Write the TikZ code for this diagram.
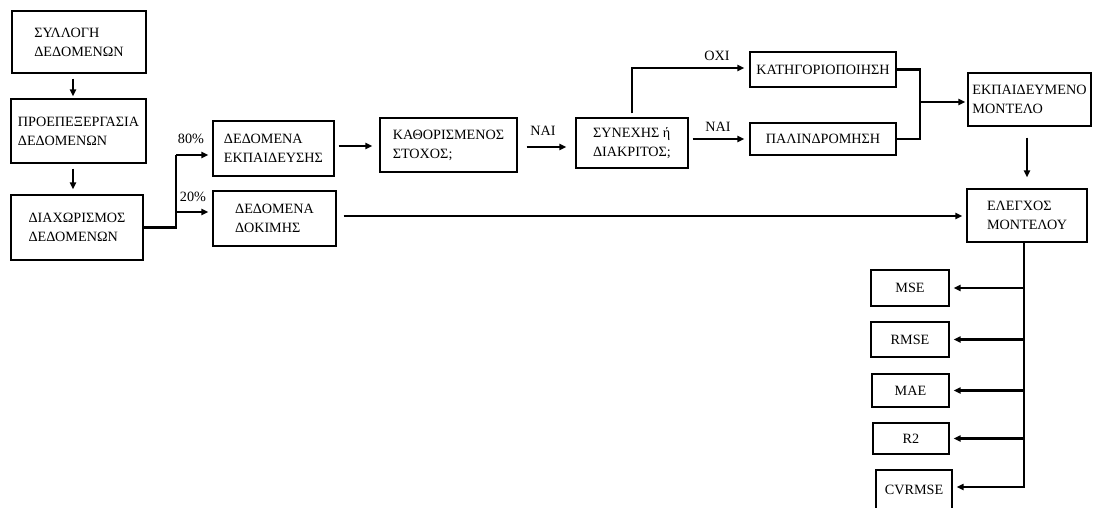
\documentclass[tikz,border=0pt]{standalone}
\usepackage{fontspec}
\setmainfont{Liberation Serif}
\usetikzlibrary{arrows.meta}
\begin{document}
\begin{tikzpicture}[x=1pt,y=-1pt,
  box/.style={draw, line width=1.1pt, align=left, inner sep=0pt,
              font=\fontsize{14.2}{19}\selectfont},
  lbl/.style={inner sep=0pt, font=\fontsize{14.2}{16}\selectfont},
  conn/.style={line width=2.6pt},
  arr/.style={conn, -{Triangle[length=7pt,width=6pt]}},
  thinarr/.style={line width=2pt, -{Triangle[length=7pt,width=6pt]}},
]
\useasboundingbox (0,0) rectangle (1100,507);
\clip (0,0) rectangle (1100,507);

% data preparation chain
\node[box, minimum width=134pt, minimum height=62pt] (s1) at (79,42) {ΣΥΛΛΟΓΗ\\ΔΕΔΟΜΕΝΩΝ};
\node[box, minimum width=135pt, minimum height=64pt] (s2) at (78.5,131) {ΠΡΟΕΠΕΞΕΡΓΑΣΙΑ\\ΔΕΔΟΜΕΝΩΝ};
\node[box, minimum width=132pt, minimum height=65pt] (s3) at (77,227.5) {ΔΙΑΧΩΡΙΣΜΟΣ\\ΔΕΔΟΜΕΝΩΝ};

% train / test split
\node[box, minimum width=121pt, minimum height=55pt] (train) at (273.5,148.5) {ΔΕΔΟΜΕΝΑ\\ΕΚΠΑΙΔΕΥΣΗΣ};
\node[box, minimum width=123pt, minimum height=55pt] (test) at (274.5,218.5) {ΔΕΔΟΜΕΝΑ\\ΔΟΚΙΜΗΣ};

% decisions
\node[box, minimum width=137pt, minimum height=54pt] (goal) at (448.5,145) {ΚΑΘΟΡΙΣΜΕΝΟΣ\\ΣΤΟΧΟΣ;};
\node[box, minimum width=112pt, minimum height=50pt] (cont) at (632,143) {ΣΥΝΕΧΗΣ ή\\ΔΙΑΚΡΙΤΟΣ;};
\node[box, minimum width=146pt, minimum height=35pt] (cls) at (823,69.5) {ΚΑΤΗΓΟΡΙΟΠΟΙΗΣΗ};
\node[box, minimum width=146pt, minimum height=32pt] (reg) at (823,139) {ΠΑΛΙΝΔΡΟΜΗΣΗ};

% model
\node[box, minimum width=123pt, minimum height=53pt] (trained) at (1029.5,99.5) {ΕΚΠΑΙΔΕΥΜΕΝΟ\\ΜΟΝΤΕΛΟ};
\node[box, minimum width=120pt, minimum height=53pt] (eval) at (1027,215.5) {ΕΛΕΓΧΟΣ\\ΜΟΝΤΕΛΟΥ};

% metrics
\node[box, minimum width=78pt, minimum height=36pt] (mse) at (910,288) {MSE};
\node[box, minimum width=78pt, minimum height=35pt] (rmse) at (910,339.5) {RMSE};
\node[box, minimum width=77pt, minimum height=33pt] (mae) at (910.5,390.5) {MAE};
\node[box, minimum width=76pt, minimum height=31pt] (r2) at (911,438.5) {R2};
\node[box, minimum width=76pt, minimum height=40pt] (cvrmse) at (914,490) {CVRMSE};

% labels
\node[lbl] (p80) at (191,139) {80\%};
\node[lbl] (p20) at (193,197) {20\%};
\node[lbl] (yes1) at (543,131) {ΝΑΙ};
\node[lbl] (no) at (717,56) {ΟΧΙ};
\node[lbl] (yes2) at (718,127) {ΝΑΙ};

% connectors
\draw[thinarr, shorten <=5pt, shorten >=2pt] ([xshift=-6pt]s1.south) -- ([xshift=-5.5pt]s2.north);
\draw[thinarr, shorten <=5pt, shorten >=5pt] ([xshift=-5.5pt]s2.south) -- ([xshift=-4pt]s3.north);

\coordinate (k80) at (176,155);
\coordinate (k20) at (176,212);
\draw[conn] (s3.east) -| (k80);
\draw[arr, shorten >=4pt] (k80) -- (k80 -| train.west);
\draw[arr, shorten >=4pt] (k20) -- (k20 -| test.west);

\draw[arr, shorten <=4pt, shorten >=7pt] ([yshift=2.5pt]train.east) -- ([yshift=2.5pt]train.east -| goal.west);
\draw[arr, shorten <=9pt, shorten >=9pt] ([yshift=-2pt]goal.east) -- ([yshift=-2pt]goal.east -| cont.west);

\draw[arr, shorten <=4pt, shorten >=5pt] (cont.north) |- ([yshift=1.5pt]cls.west);
\draw[arr, shorten <=4pt, shorten >=5pt] (cont.east |- reg.west) -- (reg.west);

\coordinate (m) at (920,102);
\draw[conn] (cls.east) -| (m);
\draw[conn] (reg.east) -| (m);
\draw[arr, shorten >=2pt] (m) -- (m -| trained.west);

\draw[thinarr, shorten <=11pt, shorten >=11pt] (eval.north |- trained.south) -- (eval.north);
\draw[arr, shorten <=7pt, shorten >=4pt] ([yshift=2.5pt]test.east) -- ([yshift=2.5pt]test.east -| eval.west);

\coordinate (bus) at (1024,300);
\draw[arr, shorten >=4pt] (eval.south -| bus) |- ([yshift=3pt]cvrmse.east);
\draw[arr, shorten >=4pt] (bus |- mse.east) -- (mse.east);
\draw[arr, shorten >=4pt] (bus |- rmse.east) -- (rmse.east);
\draw[arr, shorten >=4pt] (bus |- mae.east) -- (mae.east);
\draw[arr, shorten >=4pt] (bus |- r2.east) -- (r2.east);
\end{tikzpicture}
\end{document}
